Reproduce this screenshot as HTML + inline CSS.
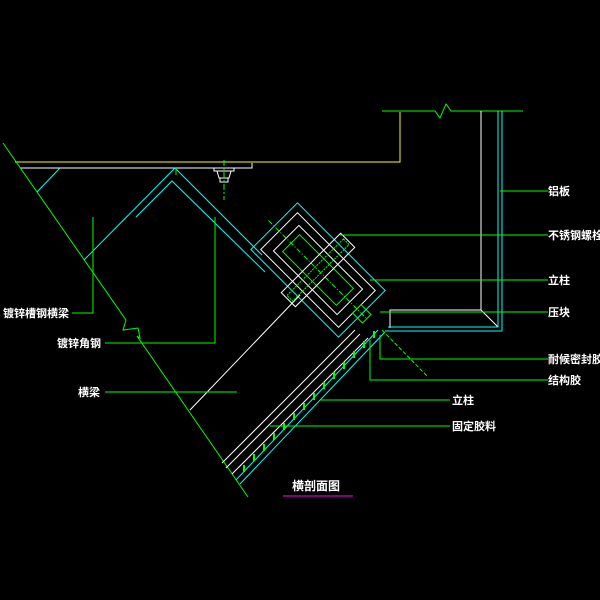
<!DOCTYPE html>
<html><head><meta charset="utf-8"><style>
html,body{margin:0;padding:0;background:#000;}
svg{display:block}
text{font-family:"Liberation Sans","Noto Sans CJK SC",sans-serif;font-size:11px;font-weight:bold;fill:#fff}
</style></head><body>
<svg width="600" height="600" viewBox="0 0 600 600" xmlns="http://www.w3.org/2000/svg">
<rect width="600" height="600" fill="#000"/>
<g fill="none" stroke-width="1">
<polyline points="15,162 400,162 400,112" stroke="#ffff00"/>
<polyline points="382,111 435,111 440,118 446,104 451,111 523,111" stroke="#00ff00"/>
<polyline points="20,168 252,168 252,163" stroke="#fff"/>
<g stroke="#fff"><rect x="214" y="168" width="20" height="3"/><polyline points="217,171 219,178 229,178 231,171"/><rect x="220" y="178" width="8" height="4"/></g>
<line x1="224" y1="160" x2="224" y2="200" stroke="#00ff00" stroke-dasharray="6,2,2,2"/>
<polyline points="3,143 126,320 123,330 138,328 140,338 137,336 248,497" stroke="#00ff00"/>
<line x1="60" y1="168" x2="37" y2="192" stroke="#00ffff"/>
<polyline points="84,260 175,168 262,255" stroke="#00ffff"/>
<polyline points="136,217 172,181 265,272" stroke="#00ffff"/>
<line x1="176" y1="168" x2="176" y2="175" stroke="#00ff00"/>
<polyline points="481,111 481,310 390,310 390,328" stroke="#fff"/>
<line x1="481" y1="310" x2="498" y2="327" stroke="#fff"/>
<polyline points="498,111 498,327 388,327" stroke="#00ffff"/>
<polyline points="502,111 502,331 385,331" stroke="#00ffff"/>
<g transform="translate(318,270) rotate(45)">
<rect x="-62" y="-33" width="124" height="66" stroke="#00ffff"/>
<rect x="-55" y="-26" width="110" height="52" stroke="#fff"/>
<rect x="-45" y="-18" width="90" height="36" stroke="#fff"/>
<rect x="-38" y="-12" width="76" height="24" stroke="#00ff00"/>
<line x1="-70" y1="0" x2="70" y2="0" stroke="#00ff00" stroke-dasharray="5,2,1,2"/>
<rect x="-10" y="-42" width="20" height="84" stroke="#fff"/>
<rect x="-4" y="-40" width="8" height="80" stroke="#00ff00" stroke-dasharray="2,1"/>
<rect x="55" y="-6" width="14" height="12" stroke="#00ff00"/>
</g>
<g stroke="#fff">
<line x1="300" y1="295" x2="190" y2="410"/>
<line x1="355" y1="330" x2="222" y2="463"/>
<line x1="360" y1="334" x2="226" y2="468"/>
<line x1="368" y1="338" x2="232" y2="474"/>
</g>
<line x1="378" y1="330" x2="236" y2="480" stroke="#00ffff"/>
<line x1="385" y1="332" x2="240" y2="484" stroke="#00ffff"/>
<g stroke="#00ff00" stroke-width="2">
<line x1="244" y1="472" x2="244" y2="465"/><line x1="254" y1="461" x2="254" y2="454"/><line x1="264" y1="451" x2="264" y2="444"/><line x1="274" y1="440" x2="274" y2="433"/><line x1="284" y1="430" x2="284" y2="423"/><line x1="294" y1="420" x2="294" y2="413"/><line x1="304" y1="410" x2="304" y2="403"/><line x1="314" y1="400" x2="314" y2="393"/><line x1="324" y1="389" x2="324" y2="382"/><line x1="334" y1="379" x2="334" y2="372"/><line x1="344" y1="369" x2="344" y2="362"/><line x1="354" y1="358" x2="354" y2="351"/><line x1="364" y1="348" x2="364" y2="341"/><line x1="374" y1="338" x2="374" y2="331"/>
</g>
<line x1="382" y1="330" x2="428" y2="377" stroke="#00ff00" stroke-dasharray="4,2"/>
<g stroke="#00ff00">
<polyline points="93,217 93,313 72,313"/>
<polyline points="215,217 215,343 105,343"/>
<line x1="105" y1="392" x2="237" y2="392"/>
<line x1="500" y1="191" x2="548" y2="191"/>
<line x1="340" y1="235" x2="548" y2="235"/>
<line x1="370" y1="280" x2="548" y2="280"/>
<line x1="380" y1="312" x2="548" y2="312"/>
<polyline points="380,335 380,359 548,359"/>
<polyline points="370,340 370,380 548,380"/>
<line x1="320" y1="400" x2="450" y2="400"/>
<line x1="270" y1="426" x2="450" y2="426"/>
</g>
<line x1="283" y1="496" x2="353" y2="496" stroke="#ff00ff"/>
</g>
<text x="548" y="195">铝板</text>
<text x="548" y="239">不锈钢螺栓</text>
<text x="548" y="284">立柱</text>
<text x="548" y="316">压块</text>
<text x="548" y="363">耐候密封胶</text>
<text x="548" y="384">结构胶</text>
<text x="452" y="404">立柱</text>
<text x="452" y="430">固定胶料</text>
<text x="3" y="317">镀锌槽钢横梁</text>
<text x="57" y="347">镀锌角钢</text>
<text x="78" y="396">横梁</text>
<text x="292" y="490" style="font-size:12px">横剖面图</text>
</svg>
</body></html>
